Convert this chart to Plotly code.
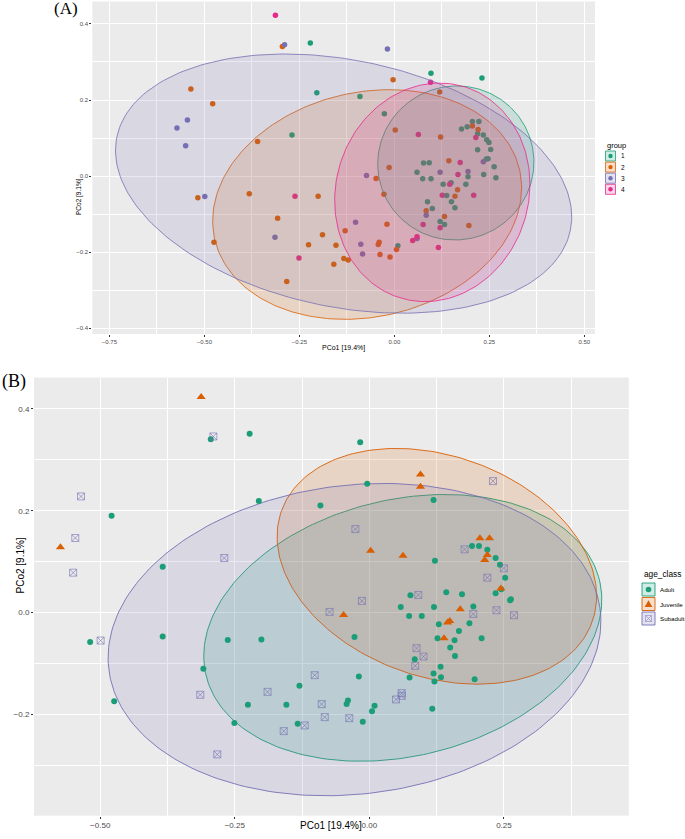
import numpy as np
import plotly.graph_objects as go

# ---------------- Panel A data (PCoA coloured by group) ----------------
A_groups = ["1", "2", "3", "4"]
A_colors = ["#1B9E77", "#D95F02", "#7570B3", "#E7298A"]

A1_x = [-0.2213, 0.0963, 0.2305, -0.2041, -0.0906, -0.0264, -0.2695, 0.1766, 0.1915, 0.2053,
        0.2225, 0.2190, 0.2340, 0.2431, 0.2489, 0.2190, 0.2534, 0.2420, 0.2466, 0.2626,
        0.2351, 0.2672, 0.0768, 0.0917, 0.0596, 0.0745, 0.0963, 0.1284, 0.1491, 0.1376,
        0.1881, 0.1938, 0.0872, 0.1502, 0.0998, 0.1594, 0.1204, 0.1319, 0.0092]
A1_y = [0.3500, 0.2702, 0.2579, 0.2193, 0.2096, 0.1640, 0.1079, 0.1237, 0.1298, 0.1439,
        0.1439, 0.1114, 0.1079, 0.0956, 0.0886, 0.0693, 0.0702, 0.0447, 0.0456, 0.0246,
        0.0044, -0.0044, 0.0342, 0.0351, 0.0105, -0.0070, -0.0070, -0.0211, -0.0175, -0.0509,
        -0.0211, -0.0018, -0.0675, -0.0675, -0.0851, -0.0833, -0.1193, -0.1272, -0.1833]

A2_x = [-0.2947, -0.0034, 0.1193, -0.5356, -0.4782, -0.3601, 0.0023, 0.1216, 0.2053, 0.2202,
        -0.0138, -0.0482, 0.1433, -0.5172, -0.3819, -0.2007, -0.0275, 0.1663, 0.1594, -0.3073,
        0.0837, 0.1319, -0.0195, 0.1961, -0.4748, -0.1892, -0.1296, -0.2259, -0.1537, -0.0401,
        -0.0424, 0.0057, -0.1330, -0.1216, -0.1594, -0.0378, -0.0115, -0.2833]
A2_y = [0.3404, 0.2535, 0.2211, 0.2289, 0.1904, 0.0912, 0.1211, 0.1026, 0.1316, 0.1228,
        0.0228, -0.0061, 0.0404, -0.0570, -0.0465, -0.0526, -0.0474, -0.0360, -0.0526, -0.1105,
        -0.0912, -0.1061, -0.1263, -0.1298, -0.1737, -0.1544, -0.1439, -0.1807, -0.1816, -0.1737,
        -0.1798, -0.1930, -0.2167, -0.2202, -0.2316, -0.2061, -0.2123, -0.2772]

A3_x = [-0.2890, -0.0183, -0.5722, -0.5447, -0.5493, -0.4989, -0.0734, 0.1204, 0.1938, 0.2340,
        0.0837, -0.1021, -0.3142, -0.0883, -0.0837, 0.0596]
A3_y = [0.3456, 0.3342, 0.1263, 0.1474, 0.0798, -0.0535, 0.0018, 0.0105, 0.0123, 0.0377,
        -0.1026, -0.1211, -0.1605, -0.1789, -0.2044, -0.1640]

A4_x = [-0.3131, 0.0952, 0.0631, 0.2144, 0.1732, 0.1674, 0.1456, 0.1261, 0.2087, -0.2615,
        0.0757, 0.1204, 0.0596, 0.0482, 0.1158, -0.2511]
A4_y = [0.4228, 0.2465, 0.1096, 0.1018, 0.0360, 0.0044, -0.0211, -0.0500, -0.0500, -0.0526,
        -0.1272, -0.1360, -0.1596, -0.1693, -0.1877, -0.2149]

# ellipse parameters for panel A (centre, semi-axes, rotation in degrees)
A_ell_cx = [0.1617, -0.0717, -0.1336, 0.0998]
A_ell_cy = [0.0346, -0.0746, -0.0197, -0.0426]
A_ell_a = [0.2060, 0.4114, 0.6092, 0.2901]
A_ell_b = [0.2020, 0.2952, 0.3245, 0.2537]
A_ell_ang = [20.0, 12.7, -11.6, 73.2]

# ---------------- Panel B data (PCoA coloured by age class) ----------------
B_classes = ["Adult", "Juvenile", "Subadult"]
B_colors = ["#1B9E77", "#D95F02", "#7570B3"]

B_adult_x = [-0.2946, -0.2224, -0.0170, -0.0040, -0.2054, -0.0909, 0.1193, -0.4789, -0.3839, 0.1218,
             0.1907, 0.2037, 0.2192, 0.2346, 0.2427, 0.2524, 0.2451, 0.2346, 0.2614, 0.2630,
             0.1429, 0.1721, 0.0763, 0.0584, 0.0739, 0.0974, 0.1201, 0.1932, 0.1859, 0.1291,
             0.1664, 0.1266, 0.1583, 0.2086, 0.1502, 0.1591, 0.0844, 0.1323, 0.1193, 0.1331,
             0.1209, 0.0747, 0.1956, -0.0276, -0.0195, -0.2630, -0.2005, -0.3839, -0.5187, -0.3084,
             -0.4740, -0.1299, -0.2256, -0.1542, -0.0398, -0.0422, -0.2508, -0.1331, -0.0122, 0.0049,
             0.0097, 0.1169]
B_adult_y = [0.3405, 0.3510, 0.3346, 0.2530, 0.2190, 0.2105, 0.2209, 0.1902, 0.0902, 0.1020,
             0.1307, 0.1307, 0.1235, 0.1072, 0.0941, 0.0686, 0.0458, 0.0379, 0.0242, 0.0261,
             0.0399, 0.0359, 0.0340, 0.0111, -0.0065, -0.0065, 0.0111, 0.0118, -0.0209, -0.0229,
             -0.0359, -0.0503, -0.0542, -0.0503, -0.0686, -0.0850, -0.0915, -0.1065, -0.1196, -0.1268,
             -0.1353, -0.1275, -0.1307, -0.0477, -0.1255, -0.0536, -0.0529, -0.0471, -0.0575, -0.1105,
             -0.1739, -0.1438, -0.1810, -0.1810, -0.1725, -0.1797, -0.2170, -0.2183, -0.2144, -0.1935,
             -0.1830, -0.1889]

B_juv_x = [-0.3125, -0.5739, 0.0950, 0.0950, 0.0024, 0.0625, 0.2054, 0.2232, 0.2192, 0.2143,
           0.2443, -0.0479, 0.1688, 0.1494, 0.1453, 0.1388]
B_juv_y = [0.4235, 0.1281, 0.2712, 0.2471, 0.1216, 0.1118, 0.1458, 0.1458, 0.1131, 0.1033,
           0.0471, -0.0046, 0.0065, -0.0163, -0.0196, -0.0503]

B_sub_x = [-0.2898, -0.5357, -0.5463, -0.5503, -0.2695, -0.0260, 0.2297, 0.1769, 0.2500, 0.2192,
           0.0909, -0.0138, -0.0739, 0.1932, 0.2362, 0.2687, 0.0877, 0.1006, 0.0852, -0.4992,
           -0.3141, -0.1891, -0.1015, -0.0885, -0.0828, -0.0373, -0.1201, -0.1591, -0.2825, 0.0495,
           0.0601, 0.0601]
B_sub_y = [0.3458, 0.2281, 0.1464, 0.0784, 0.1072, 0.1640, 0.2582, 0.1242, 0.0869, 0.0686,
           0.0346, 0.0229, 0.0013, -0.0026, 0.0046, -0.0052, -0.0699, -0.0863, -0.1046, -0.0549,
           -0.1614, -0.1556, -0.1229, -0.1797, -0.2052, -0.2072, -0.2216, -0.2327, -0.2784, -0.1706,
           -0.1634, -0.1582]

B_ell_cx = [0.0621, 0.1254, -0.0276]
B_ell_cy = [-0.0300, 0.0909, -0.0530]
B_ell_a = [0.3773, 0.3087, 0.4602]
B_ell_b = [0.2508, 0.2152, 0.3029]
B_ell_ang = [15.5, -22.6, 7.9]

W, H = 685, 839


def ellipse(cx, cy, a, b, ang):
    t = np.linspace(0, 2 * np.pi, 241)
    th = np.radians(ang)
    x = cx + a * np.cos(t) * np.cos(th) - b * np.sin(t) * np.sin(th)
    y = cy + a * np.cos(t) * np.sin(th) + b * np.sin(t) * np.cos(th)
    return x, y


def rgba(hexc, alpha):
    h = hexc.lstrip("#")
    r, g, b = int(h[0:2], 16), int(h[2:4], 16), int(h[4:6], 16)
    return f"rgba({r},{g},{b},{alpha})"


def px(x):
    return x / W


def py(y):
    return 1 - y / H


fig = go.Figure()

# ---- Panel A: points then ellipses on top
A_xs = [A1_x, A2_x, A3_x, A4_x]
A_ys = [A1_y, A2_y, A3_y, A4_y]
for g, c, xs, ys in zip(A_groups, A_colors, A_xs, A_ys):
    fig.add_trace(go.Scatter(x=xs, y=ys, mode="markers", name=g, showlegend=False,
                             marker=dict(color=c, size=5.5, line=dict(width=0)),
                             xaxis="x", yaxis="y"))
for i, c in enumerate(A_colors):
    ex, ey = ellipse(A_ell_cx[i], A_ell_cy[i], A_ell_a[i], A_ell_b[i], A_ell_ang[i])
    fig.add_trace(go.Scatter(x=ex, y=ey, mode="lines", fill="toself", showlegend=False,
                             fillcolor=rgba(c, 0.16), line=dict(color=c, width=0.8),
                             hoverinfo="skip", xaxis="x", yaxis="y"))

# ---- Panel B: ellipses then points
for i, c in enumerate(B_colors):
    ex, ey = ellipse(B_ell_cx[i], B_ell_cy[i], B_ell_a[i], B_ell_b[i], B_ell_ang[i])
    fig.add_trace(go.Scatter(x=ex, y=ey, mode="lines", fill="toself", showlegend=False,
                             fillcolor=rgba(c, 0.16), line=dict(color=c, width=0.9),
                             hoverinfo="skip", xaxis="x2", yaxis="y2"))

fig.add_trace(go.Scatter(x=B_adult_x, y=B_adult_y, mode="markers", name="Adult", showlegend=False,
                         marker=dict(color=B_colors[0], size=6, line=dict(width=0)),
                         xaxis="x2", yaxis="y2"))
fig.add_trace(go.Scatter(x=B_juv_x, y=B_juv_y, mode="markers", name="Juvenile", showlegend=False,
                         marker=dict(color=B_colors[1], symbol="triangle-up", size=8, line=dict(width=0)),
                         xaxis="x2", yaxis="y2"))
fig.add_trace(go.Scatter(x=B_sub_x, y=B_sub_y, mode="markers", name="Subadult", showlegend=False,
                         marker=dict(color=rgba(B_colors[2], 0.6), symbol="square-x-open", size=7,
                                     line=dict(width=1)),
                         xaxis="x2", yaxis="y2"))

tickc = "#4D4D4D"
axis_common = dict(showgrid=True, gridcolor="white", gridwidth=1, zeroline=False,
                   ticks="outside", ticklen=2, tickcolor="#333333", tickwidth=0.6,
                   showline=False)

fig.update_layout(
    width=W, height=H, autosize=False,
    margin=dict(l=0, r=0, t=0, b=0),
    paper_bgcolor="white", plot_bgcolor="#EBEBEB",
    showlegend=False,
    font=dict(family="Liberation Sans, Arial, sans-serif", color=tickc),
    xaxis=dict(domain=[px(92.3), px(595)], range=[-0.795, 0.528], anchor="y",
               tick0=0, dtick=0.25, tickformat=".2f", tickfont=dict(size=6, color=tickc),
               minor=dict(dtick=0.125, showgrid=True, gridcolor="white", gridwidth=0.5), **axis_common),
    yaxis=dict(domain=[py(334), py(1.5)], range=[-0.415, 0.459], anchor="x",
               tick0=0, dtick=0.2, tickformat=".1f", tickfont=dict(size=6, color=tickc),
               minor=dict(dtick=0.1, showgrid=True, gridcolor="white", gridwidth=0.5), **axis_common),
    xaxis2=dict(domain=[px(34), px(628.8)], range=[-0.623, 0.482], anchor="y2",
                tick0=0, dtick=0.25, tickformat=".2f", tickfont=dict(size=8, color=tickc),
                minor=dict(dtick=0.125, showgrid=True, gridcolor="white", gridwidth=0.5), **axis_common),
    yaxis2=dict(domain=[py(815.7), py(377.5)], range=[-0.3988, 0.4616], anchor="x2",
                tick0=0, dtick=0.2, tickformat=".1f", tickfont=dict(size=8, color=tickc),
                minor=dict(dtick=0.1, showgrid=True, gridcolor="white", gridwidth=0.5), **axis_common),
)

ann = []
shapes = []
# panel labels
ann.append(dict(text="(A)", x=px(52), y=py(9), xref="paper", yref="paper", xanchor="left",
                yanchor="middle", showarrow=False,
                font=dict(family="Liberation Serif, Times New Roman, serif", size=17, color="black")))
ann.append(dict(text="(B)", x=px(0), y=py(381), xref="paper", yref="paper", xanchor="left",
                yanchor="middle", showarrow=False,
                font=dict(family="Liberation Serif, Times New Roman, serif", size=18, color="black")))
# axis titles
ann.append(dict(text="PCo1 [19.4%]", x=px(343.5), y=py(347.5), xref="paper", yref="paper",
                showarrow=False, font=dict(size=7, color="black")))
ann.append(dict(text="PCo2 [9.1%]", x=px(72.5), y=py(176), xref="paper", yref="paper",
                textangle=-90, showarrow=False, font=dict(size=6.5, color="black")))
ann.append(dict(text="PCo1 [19.4%]", x=px(331), y=py(832.5), xref="paper", yref="paper",
                showarrow=False, font=dict(size=10, color="black")))
ann.append(dict(text="PCo2 [9.1%]", x=px(12), y=py(596), xref="paper", yref="paper",
                textangle=-90, showarrow=False, font=dict(size=10, color="black")))

# ---- legend A
ann.append(dict(text="group", x=px(604.5), y=py(145.5), xref="paper", yref="paper", xanchor="left",
                yanchor="middle", showarrow=False, font=dict(size=7.5, color="black")))
for i, (g, c) in enumerate(zip(A_groups, A_colors)):
    yc = 156 + i * 11.1
    shapes.append(dict(type="rect", xref="paper", yref="paper", x0=px(605.5), x1=px(615.5),
                       y0=py(yc - 5), y1=py(yc + 5), fillcolor=rgba(c, 0.2),
                       line=dict(color=c, width=0.8)))
    shapes.append(dict(type="circle", xref="paper", yref="paper", x0=px(608.3), x1=px(612.7),
                       y0=py(yc - 2.2), y1=py(yc + 2.2), fillcolor=c, line=dict(width=0)))
    ann.append(dict(text=g, x=px(619), y=py(yc), xref="paper", yref="paper", xanchor="left",
                    yanchor="middle", showarrow=False, font=dict(size=6.5, color="black")))

# ---- legend B
ann.append(dict(text="age_class", x=px(641.5), y=py(574), xref="paper", yref="paper", xanchor="left",
                yanchor="middle", showarrow=False, font=dict(size=8.3, color="black")))
for i, (g, c) in enumerate(zip(B_classes, B_colors)):
    yc = 589.5 + i * 14.5
    xc = 648.5
    shapes.append(dict(type="rect", xref="paper", yref="paper", x0=px(642), x1=px(655),
                       y0=py(yc - 6.5), y1=py(yc + 6.5), fillcolor=rgba(c, 0.2),
                       line=dict(color=c, width=0.9)))
    if i == 0:
        shapes.append(dict(type="circle", xref="paper", yref="paper", x0=px(xc - 2.8), x1=px(xc + 2.8),
                           y0=py(yc - 2.8), y1=py(yc + 2.8), fillcolor=c, line=dict(width=0)))
    elif i == 1:
        path = (f"M {px(xc - 3.8)},{py(yc + 3)} L {px(xc + 3.8)},{py(yc + 3)} "
                f"L {px(xc)},{py(yc - 3.8)} Z")
        shapes.append(dict(type="path", xref="paper", yref="paper", path=path, fillcolor=c,
                           line=dict(width=0)))
    else:
        cc = rgba(c, 0.6)
        shapes.append(dict(type="rect", xref="paper", yref="paper", x0=px(xc - 3), x1=px(xc + 3),
                           y0=py(yc - 3), y1=py(yc + 3), line=dict(color=cc, width=0.8)))
        shapes.append(dict(type="line", xref="paper", yref="paper", x0=px(xc - 3), x1=px(xc + 3),
                           y0=py(yc - 3), y1=py(yc + 3), line=dict(color=cc, width=0.8)))
        shapes.append(dict(type="line", xref="paper", yref="paper", x0=px(xc - 3), x1=px(xc + 3),
                           y0=py(yc + 3), y1=py(yc - 3), line=dict(color=cc, width=0.8)))
    ann.append(dict(text=g, x=px(658), y=py(yc), xref="paper", yref="paper", xanchor="left",
                    yanchor="middle", showarrow=False, font=dict(size=6.2, color="black")))

fig.update_layout(annotations=ann, shapes=shapes)
fig.write_html("out.html", config={"displayModeBar": False},
               post_script="document.body.style.margin='0';document.body.style.overflow='hidden';")
